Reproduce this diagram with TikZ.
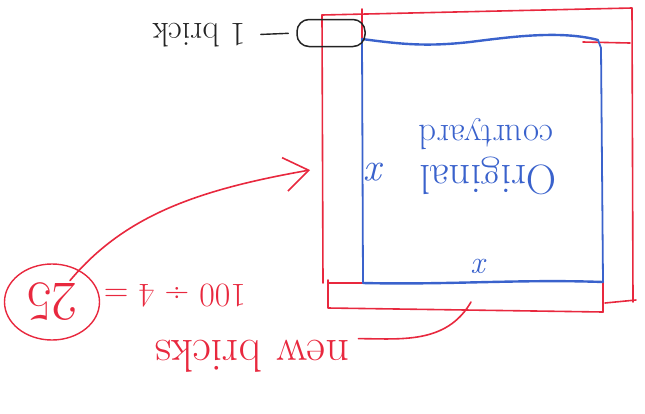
\documentclass[tikz,border=0pt]{standalone}
\usepackage{tikz}
\usetikzlibrary{arrows.meta,shapes.geometric}
\definecolor{penred}{RGB}{232,40,62}
\definecolor{penblue}{RGB}{58,98,204}
\definecolor{penblack}{RGB}{35,35,35}
\newcommand{\upsd}[1]{\rotatebox{180}{#1}}
\newcommand{\fs}[1]{\fontsize{#1}{#1}\selectfont}

\begin{document}
\begin{tikzpicture}[x=1pt, y=-1pt, line cap=round, line join=round,
    redline/.style={penred, line width=1.6pt},
    blueline/.style={penblue, line width=2.4pt},
    redlabel/.style={text=penred, inner sep=1pt},
    bluelabel/.style={text=penblue, inner sep=1pt}]
  \useasboundingbox (0,0) rectangle (645,413);
  % new bricks round the courtyard
  \draw[redline] (322,15) -- (632,8) -- (633,302);
  \draw[redline] (322,15) -- (323,283);
  \draw[redline] (328,280) -- (328,308) -- (603,312);
  \draw[redline] (328,283) -- (363,283);
  \draw[redline] (605,303) -- (636,300);
  \draw[redline] (603,273) -- (603,312);
  \draw[redline] (583,42) -- (630,43);
  \draw[redline] (362,9) -- (362,45);
  % original courtyard
  \draw[blueline] (362,39) .. controls (400,44) and (425,47) .. (470,42)
    .. controls (510,37) and (560,30) .. (598,40);
  \draw[blueline, line width=1.8pt] (598,40) -- (601,48) -- (603,282);
  \draw[blueline] (363,283) .. controls (450,285) and (520,279) .. (603,282);
  \draw[blueline, line width=1.8pt] (362,39) -- (363,283);
  \node[bluelabel, font=\fs{40}\itshape] (xleft) at (376,172) {\upsd{x}};
  \node[bluelabel, font=\fs{32}\itshape] (xbot) at (481,266) {\upsd{x}};
  \node[bluelabel, font=\fs{42}] (orig) at (488,176) {\upsd{Original}};
  \node[bluelabel, font=\fs{35}] (court) at (486,134) {\upsd{courtyard}};
  % one brick
  \node[draw=penblack, line width=1.5pt, rounded corners=12pt,
    minimum width=68pt, minimum height=27pt, inner sep=0] (brickring) at (331,33) {};
  \node[text=penblack, inner sep=1pt, font=\fs{34}] (brk) at (199,35) {\upsd{1 brick}};
  \draw[penblack, line width=1.4pt, shorten <=14pt, shorten >=8pt]
    (brk.east) -- (brickring.west);
  % count of new bricks
  \node[redlabel, font=\fs{34}] (calc) at (175,296) {\upsd{100 ÷ 4 =}};
  \node[redlabel, draw=penred, line width=1.4pt, ellipse, minimum width=95pt,
    minimum height=76pt, font=\fs{56}] (ans) at (52,302) {\upsd{25}};
  \coordinate (arrowtip) at (310,170);
  \draw[redline, -{Straight Barb[length=24pt, width=34pt]}, shorten <=28pt]
    (ans.center) to[out=50, in=190] (arrowtip);
  \node[redlabel, font=\fs{46}] (nb) at (252,356) {\upsd{new bricks}};
  \coordinate (strip) at (471,302);
  \draw[redline, shorten <=8pt] (nb.north east) to[out=0, in=-120] (strip);
\end{tikzpicture}
\end{document}
